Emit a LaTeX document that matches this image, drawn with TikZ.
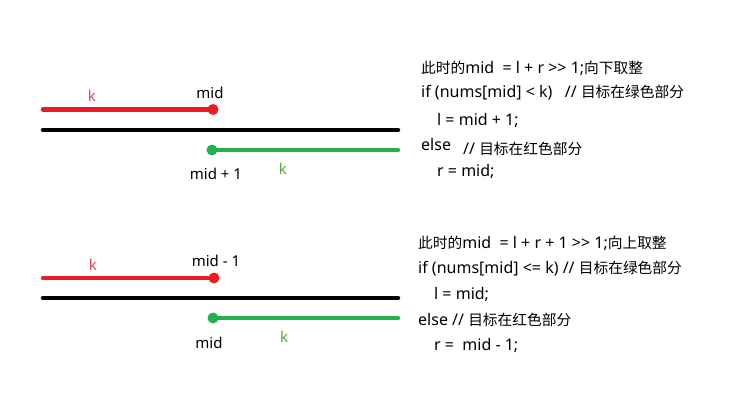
\documentclass[tikz,border=0pt]{standalone}
\usepackage{fontspec}
\setmainfont{Noto Sans}
\newfontfamily\cjk[Scale=0.92]{Noto Sans CJK SC}
\definecolor{pred}{HTML}{ED1C24}
\definecolor{pgreen}{HTML}{22B14C}
\definecolor{kred}{HTML}{E8405A}
\definecolor{kgreen}{HTML}{5AAA3C}
\begin{document}
\begin{tikzpicture}[x=1pt,y=-1pt,
  seg/.style={line width=4.5pt,line cap=round},
  dotp/.style={circle,inner sep=0pt,minimum size=11pt},
  lbl/.style={font=\fontsize{15}{17}\selectfont,inner sep=0pt,anchor=base},
  code/.style={font=\fontsize{16}{18}\selectfont,inner sep=0pt,anchor=base west}]
\useasboundingbox (0,0) rectangle (746,401);
% ---- top diagram ----
\coordinate (r1s) at (43,109.5);
\node[dotp,fill=pred] (r1d) at (213,109.5) {};
\coordinate (b1s) at (43,130);
\coordinate (b1e) at (398,130);
\node[dotp,fill=pgreen] (g1d) at (212,150) {};
\coordinate (g1e) at (398,150);
\draw[seg,pred] (r1s) -- (r1d.center);
\draw[seg,black] (b1s) -- (b1e);
\draw[seg,pgreen] (g1d.center) -- (g1e);
\node[lbl,kred] (k1r) at (92,102) {k};
\node[lbl] (m1) at (210,99) {mid};
\node[lbl] (m1p) at (216,179) {mid + 1};
\node[lbl,kgreen] (k1g) at (283,174) {k};
% ---- bottom diagram ----
\coordinate (r2s) at (43,278);
\node[dotp,fill=pred] (r2d) at (214,278) {};
\coordinate (b2s) at (43,298);
\coordinate (b2e) at (398,298);
\node[dotp,fill=pgreen] (g2d) at (213,318) {};
\coordinate (g2e) at (398,318);
\draw[seg,pred] (r2s) -- (r2d.center);
\draw[seg,black] (b2s) -- (b2e);
\draw[seg,pgreen] (g2d.center) -- (g2e);
\node[lbl,kred] (k2r) at (93,270) {k};
\node[lbl] (m2m) at (216,266) {mid - 1};
\node[lbl] (m2) at (209,348) {mid};
\node[lbl,kgreen] (k2g) at (284,342) {k};
% ---- top code ----
\node[code] (t1) at (421,74) {{\cjk 此时的}mid\ \ = l + r >{}> 1;{\cjk 向下取整}};
\node[code] (t2) at (421,98) {if (nums[mid] < k)\ \ \ // {\cjk 目标在绿色部分}};
\node[code] (t3) at (437,125) {l = mid + 1;};
\node[code] (t4) at (421,150) {else};
\node[code] (t4b) at (463,154) {// {\cjk 目标在红色部分}};
\node[code] (t5) at (437,176) {r = mid;};
% ---- bottom code ----
\node[code] (u1) at (418,248) {{\cjk 此时的}mid\ \ = l + r + 1 >{}> 1;{\cjk 向上取整}};
\node[code] (u2) at (418,273) {if (nums[mid] <= k) // {\cjk 目标在绿色部分}};
\node[code] (u3) at (434,299) {l = mid;};
\node[code] (u4) at (418,325) {else // {\cjk 目标在红色部分}};
\node[code] (u5) at (434,350) {r =\ \ mid - 1;};
\end{tikzpicture}
\end{document}
